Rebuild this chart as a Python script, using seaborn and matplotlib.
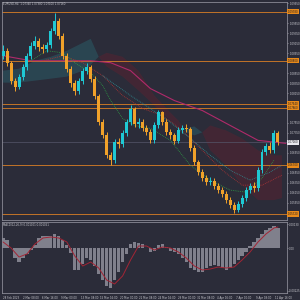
import matplotlib
matplotlib.use("Agg")
import matplotlib.pyplot as plt
import matplotlib.transforms as mtransforms
import seaborn as sns
import pandas as pd
import numpy as np

# ---------------- data ----------------
opens = [1.0890, 1.0900, 1.0876, 1.0840, 1.0828, 1.0848, 1.0868, 1.0890, 1.0910, 1.0920,
         1.0908, 1.0904, 1.0912, 1.0940, 1.0960, 1.0930, 1.0890, 1.0864, 1.0836, 1.0820,
         1.0840, 1.0860, 1.0868, 1.0844, 1.0810, 1.0756, 1.0730, 1.0690, 1.0680, 1.0716,
         1.0712, 1.0734, 1.0756, 1.0784, 1.0752, 1.0756, 1.0744, 1.0736, 1.0720, 1.0750,
         1.0776, 1.0756, 1.0736, 1.0730, 1.0718, 1.0740, 1.0744, 1.0742, 1.0704, 1.0676,
         1.0656, 1.0644, 1.0636, 1.0638, 1.0628, 1.0620, 1.0612, 1.0600, 1.0590, 1.0580,
         1.0592, 1.0604, 1.0620, 1.0628, 1.0624, 1.0660, 1.0696, 1.0708, 1.0700, 1.0734]
closes = [1.0900, 1.0876, 1.0840, 1.0828, 1.0848, 1.0868, 1.0890, 1.0910, 1.0920, 1.0908,
          1.0904, 1.0912, 1.0940, 1.0960, 1.0930, 1.0890, 1.0864, 1.0836, 1.0820, 1.0840,
          1.0860, 1.0868, 1.0844, 1.0810, 1.0756, 1.0730, 1.0690, 1.0680, 1.0716, 1.0712,
          1.0734, 1.0756, 1.0784, 1.0752, 1.0756, 1.0744, 1.0736, 1.0720, 1.0750, 1.0776,
          1.0756, 1.0736, 1.0730, 1.0718, 1.0740, 1.0744, 1.0742, 1.0704, 1.0676, 1.0656,
          1.0644, 1.0636, 1.0638, 1.0628, 1.0620, 1.0612, 1.0600, 1.0590, 1.0580, 1.0592,
          1.0604, 1.0620, 1.0628, 1.0624, 1.0660, 1.0696, 1.0708, 1.0700, 1.0734, 1.0716]
highs = [1.0912, 1.0906, 1.0880, 1.0846, 1.0854, 1.0874, 1.0896, 1.0918, 1.0930, 1.0926,
         1.0914, 1.0918, 1.0946, 1.0976, 1.0966, 1.0936, 1.0896, 1.0870, 1.0842, 1.0846,
         1.0866, 1.0876, 1.0872, 1.0850, 1.0814, 1.0762, 1.0736, 1.0696, 1.0722, 1.0724,
         1.0740, 1.0762, 1.0792, 1.0788, 1.0764, 1.0762, 1.0750, 1.0742, 1.0756, 1.0782,
         1.0780, 1.0762, 1.0742, 1.0734, 1.0746, 1.0750, 1.0752, 1.0746, 1.0710, 1.0680,
         1.0662, 1.0650, 1.0646, 1.0644, 1.0634, 1.0626, 1.0618, 1.0606, 1.0596, 1.0598,
         1.0610, 1.0626, 1.0634, 1.0636, 1.0666, 1.0702, 1.0714, 1.0716, 1.0740, 1.0738]
lows = [1.0884, 1.0870, 1.0834, 1.0820, 1.0824, 1.0842, 1.0862, 1.0884, 1.0904, 1.0900,
        1.0896, 1.0898, 1.0906, 1.0934, 1.0924, 1.0884, 1.0858, 1.0828, 1.0812, 1.0814,
        1.0834, 1.0854, 1.0838, 1.0804, 1.0750, 1.0724, 1.0684, 1.0670, 1.0674, 1.0704,
        1.0706, 1.0728, 1.0750, 1.0746, 1.0744, 1.0738, 1.0730, 1.0714, 1.0714, 1.0744,
        1.0750, 1.0730, 1.0722, 1.0712, 1.0714, 1.0734, 1.0736, 1.0698, 1.0670, 1.0650,
        1.0638, 1.0630, 1.0630, 1.0622, 1.0614, 1.0606, 1.0594, 1.0584, 1.0574, 1.0576,
        1.0586, 1.0598, 1.0614, 1.0616, 1.0618, 1.0654, 1.0690, 1.0694, 1.0694, 1.0710]

# Ichimoku cloud spans
cloud_idx = [0, 4, 8, 12, 16, 20, 22, 24, 26, 30, 34, 38, 42, 44, 46, 48, 50, 52, 56, 60, 64, 68, 70]
span_a = [1.0860, 1.0864, 1.0880, 1.0888, 1.0900, 1.0916, 1.0924, 1.0888, 1.0868, 1.0848, 1.0820, 1.0790,
          1.0760, 1.0744, 1.0744, 1.0748, 1.0736, 1.0700, 1.0670, 1.0630, 1.0600, 1.0600, 1.0604]
span_b = [1.0836, 1.0836, 1.0840, 1.0844, 1.0848, 1.0860, 1.0872, 1.0888, 1.0896, 1.0888, 1.0860, 1.0810,
          1.0776, 1.0760, 1.0736, 1.0730, 1.0736, 1.0750, 1.0740, 1.0724, 1.0700, 1.0690, 1.0690]

# moving averages
pink_idx = [0, 7, 15, 22, 27, 32, 37, 43, 50, 57, 64, 71]
pink_val = [1.0890, 1.0880, 1.0880, 1.0880, 1.0876, 1.0860, 1.0824, 1.0800, 1.0780, 1.0750, 1.0720, 1.0714]
green_idx = [7, 11, 15, 18, 22, 25, 27, 30, 33, 37, 42, 47, 52, 57, 61, 65, 68]
green_val = [1.0880, 1.0900, 1.0896, 1.0876, 1.0856, 1.0830, 1.0800, 1.0764, 1.0750, 1.0744, 1.0720,
             1.0670, 1.0640, 1.0620, 1.0616, 1.0644, 1.0680]
red_idx = [10, 15, 20, 25, 30, 35, 40, 45, 50, 55, 60, 65, 70]
red_val = [1.0880, 1.0890, 1.0876, 1.0850, 1.0810, 1.0784, 1.0770, 1.0740, 1.0700, 1.0660, 1.0630, 1.0630, 1.0650]
teal_idx = [25, 32, 37, 42, 47, 52, 57, 62, 67, 70]
teal_val = [1.0850, 1.0810, 1.0784, 1.0756, 1.0724, 1.0690, 1.0660, 1.0640, 1.0656, 1.0670]

# horizontal levels
levels = [1.0978, 1.0880, 1.0794, 1.0786, 1.0670, 1.0572]

# MACD
macd_hist = [0.00050, 0.00040, 0.00000, -0.00050, -0.00070, -0.00050, -0.00030, -0.00010, 0.00015, 0.00050,
             0.00060, 0.00060, 0.00060, 0.00070, 0.00060, 0.00040, 0.00015, -0.00025, -0.00110, -0.00110,
             -0.00080, -0.00050, -0.00060, -0.00090, -0.00130, -0.00160, -0.00190, -0.00200, -0.00160, -0.00120,
             -0.00070, -0.00030, 0.00020, 0.00030, 0.00025, 0.00020, 0.00000, -0.00020, -0.00015, 0.00015,
             0.00020, 0.00005, -0.00015, -0.00020, -0.00030, -0.00050, -0.00070, -0.00100, -0.00110, -0.00120,
             -0.00120, -0.00100, -0.00090, -0.00085, -0.00090, -0.00100, -0.00110, -0.00100, -0.00080, -0.00060,
             -0.00040, -0.00020, 0.00010, 0.00030, 0.00050, 0.00070, 0.00090, 0.00100, 0.00110, 0.00100]
signal_idx = [0, 2, 4, 6, 8, 10, 12, 14, 16, 18, 20, 22, 24, 26, 28, 30, 32, 34, 36, 38, 40, 42, 44, 46,
              48, 50, 52, 54, 56, 58, 60, 62, 64, 66, 68, 69]
signal_val = [0.00030, 0.00000, -0.00045, -0.00030, 0.00020, 0.00050, 0.00055, 0.00050, 0.00030, -0.00040,
              -0.00090, -0.00070, -0.00100, -0.00160, -0.00180, -0.00140, -0.00060, 0.00010, 0.00010, -0.00010,
              0.00005, 0.00000, -0.00020, -0.00050, -0.00090, -0.00110, -0.00105, -0.00095, -0.00100, -0.00095,
              -0.00060, -0.00020, 0.00030, 0.00070, 0.00100, 0.00105]

price_ticks = [1.0995, 1.0955, 1.0935, 1.0915, 1.0895, 1.0855, 1.0835, 1.0815, 1.0755,
               1.0735, 1.0695, 1.0655, 1.0635, 1.0615, 1.0595]
macd_ticks = [0.00120, 0.0, -0.00215]
macd_tick_labels = ["0.00130", "0.00", "-0.00225"]
time_labels = ["28 Feb 2023", "2 Mar 08:00", "6 Mar 16:00", "9 Mar 00:00", "13 Mar 08:00",
               "15 Mar 16:00", "20 Mar 00:00", "22 Mar 08:00", "24 Mar 16:00", "29 Mar 00:00",
               "31 Mar 08:00", "4 Apr 16:00", "7 Apr 00:00", "9 Apr 08:00", "11 Apr 16:00"]
title_text = "EURUSD,H4  1.07340 1.07380 1.07100 1.07160"
macd_text = "MACD(12,26,9) 0.001001 0.001051"

# ---------------- style ----------------
BG = "#2b2c39"
TXT = "#c9c9cf"
sns.set_style("dark", {"axes.facecolor": BG, "figure.facecolor": BG,
                       "axes.edgecolor": "#8a8a96", "text.color": TXT,
                       "xtick.color": TXT, "ytick.color": TXT})
plt.rcParams["font.family"] = ["DejaVu Sans"]
FS = 1.9

fig = plt.figure(figsize=(3, 3), dpi=100)
fig.patch.set_facecolor(BG)
ax = fig.add_axes([0.005, 1 - 220 / 300, 0.952, 218 / 300])
ax2 = fig.add_axes([0.005, 1 - 293 / 300, 0.952, 71 / 300])
for a in (ax, ax2):
    a.set_facecolor(BG)
    for s in a.spines.values():
        s.set_color("#8a8a96")
        s.set_linewidth(0.6)

n = len(closes)
idx = np.arange(n)

# cloud
ax.fill_between(cloud_idx, span_a, span_b, where=[a >= b for a, b in zip(span_a, span_b)],
                interpolate=True, color="#2a6470", alpha=0.45, linewidth=0, zorder=1)
ax.fill_between(cloud_idx, span_a, span_b, where=[a < b for a, b in zip(span_a, span_b)],
                interpolate=True, color="#5a2230", alpha=0.5, linewidth=0, zorder=1)

# levels
for lv in levels:
    ax.axhline(lv, color="#c27428", lw=0.7, zorder=2)
ax.axhline(closes[-1], color="#55566a", lw=0.5, zorder=1.5)

# moving averages
sns.lineplot(x=pink_idx, y=pink_val, ax=ax, color="#b02a6a", lw=0.8, zorder=3)
sns.lineplot(x=green_idx, y=green_val, ax=ax, color="#2f9a45", lw=0.6, linestyle=(0, (1, 1.2)), zorder=3)
sns.lineplot(x=red_idx, y=red_val, ax=ax, color="#b03434", lw=0.6, linestyle=(0, (1, 1.2)), zorder=3)
sns.lineplot(x=teal_idx, y=teal_val, ax=ax, color="#2e8d93", lw=0.6, linestyle=(0, (1, 1.2)), zorder=3)

# candles
up = "#1fc9d4"
dn = "#f0a12a"
cols = [up if c >= o else dn for o, c in zip(opens, closes)]
ax.vlines(idx, lows, highs, colors=cols, lw=0.7, zorder=4)
ax.bar(idx, [abs(c - o) if abs(c - o) > 0.00003 else 0.00003 for o, c in zip(opens, closes)],
       bottom=[min(o, c) for o, c in zip(opens, closes)], width=0.75, color=cols, linewidth=0, zorder=5)

ax.set_xlim(-0.4, 71.3)
ax.set_ylim(1.0560, 1.0998)
ax.set_xticks([])
ax.yaxis.tick_right()
ax.set_yticks(price_ticks)
ax.set_yticklabels([f"{t:.5f}" for t in price_ticks], fontsize=FS, color=TXT)
ax.tick_params(axis="y", length=1.0, width=0.4, pad=0.6, colors=TXT)
ax.set_xlabel("")
ax.set_ylabel("")

trans = mtransforms.blended_transform_factory(ax.transAxes, ax.transData)
for lv in levels:
    ax.text(1.003, lv, f"{lv:.5f}", transform=trans, fontsize=FS, color="#1d1d24",
            va="center", ha="left", clip_on=False,
            bbox=dict(boxstyle="square,pad=0.2", fc="#e88a1a", ec="none"))
ax.text(1.003, closes[-1], f"{closes[-1]:.5f}", transform=trans, fontsize=FS, color="#1d1d24",
        va="center", ha="left", clip_on=False,
        bbox=dict(boxstyle="square,pad=0.2", fc="#e8e8ee", ec="none"))
ax.text(0.005, 0.998, title_text, transform=ax.transAxes, fontsize=FS, color=TXT,
        va="top", ha="left")

# MACD panel
ax2.bar(idx, macd_hist, width=0.8, color="#80808c", linewidth=0, zorder=2)
sns.lineplot(x=signal_idx, y=signal_val, ax=ax2, color="#a32535", lw=0.7, zorder=3)
ax2.set_xlim(-0.4, 71.3)
ax2.set_ylim(-0.00225, 0.00130)
ax2.yaxis.tick_right()
ax2.set_yticks(macd_ticks)
ax2.set_yticklabels(macd_tick_labels, fontsize=FS, color=TXT)
ax2.tick_params(axis="y", length=1.0, width=0.4, pad=0.6, colors=TXT)
xpos = np.arange(len(time_labels)) * 4.875
ax2.set_xticks(xpos)
ax2.set_xticklabels(time_labels, fontsize=FS, color=TXT, ha="left")
ax2.tick_params(axis="x", length=1.5, width=0.4, pad=0.5, colors=TXT)
ax2.set_xlabel("")
ax2.set_ylabel("")
ax2.text(0.005, 0.985, macd_text, transform=ax2.transAxes, fontsize=FS, color=TXT,
         va="top", ha="left")

fig.savefig("out.png", dpi=100, facecolor=BG)
